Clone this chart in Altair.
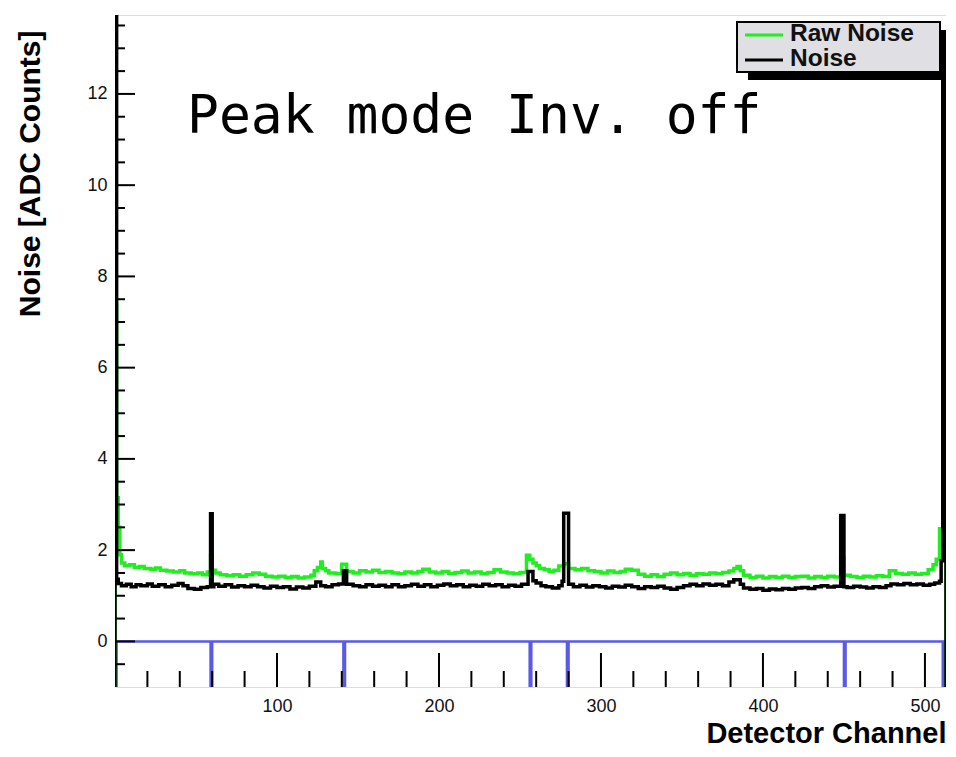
import altair as alt
import pandas as pd

# ---------------- data ----------------
series_names = ["Raw Noise", "Noise"]
series_colors = ["#1fee1f", "#000000"]
flag_color = "#5a5ae6"

x_end = 513

raw_ch = [0, 1, 2, 3, 4, 6, 9, 12, 15, 18, 22, 25, 28, 32, 36, 40, 43, 47, 51, 54, 57, 59, 60, 62,
          65, 69, 73, 77, 81, 85, 89, 93, 97, 101, 105, 109, 113, 117, 121, 123, 125, 127, 128, 130,
          132, 136, 140, 143, 147, 151, 155, 159, 163, 167, 171, 175, 179, 183, 187, 190, 194, 198,
          202, 206, 210, 214, 218, 222, 226, 230, 234, 238, 242, 246, 250, 254, 256, 258, 260, 262,
          265, 268, 271, 274, 277, 280, 284, 288, 292, 296, 300, 304, 308, 312, 315, 319, 323, 327,
          331, 335, 339, 343, 347, 351, 355, 359, 363, 367, 371, 375, 379, 382, 384, 386, 388, 392,
          396, 400, 404, 408, 412, 416, 420, 424, 428, 432, 436, 440, 444, 448, 450, 454, 458, 462,
          466, 470, 474, 478, 482, 486, 490, 494, 498, 502, 505, 507, 509, 511]
raw_val = [7.4, 3.15, 2.5, 1.9, 1.72, 1.66, 1.68, 1.62, 1.64, 1.6, 1.58, 1.61, 1.56, 1.54, 1.52, 1.55,
           1.5, 1.48, 1.5, 1.46, 1.52, 1.88, 1.56, 1.5,
           1.46, 1.44, 1.46, 1.43, 1.46, 1.5, 1.47, 1.43, 1.41, 1.43, 1.4, 1.42, 1.39, 1.41, 1.45, 1.55,
           1.62, 1.74, 1.6, 1.55,
           1.5, 1.49, 1.69, 1.53, 1.5, 1.55, 1.52, 1.56, 1.51, 1.53, 1.5, 1.48, 1.52, 1.5, 1.53, 1.58,
           1.52, 1.5,
           1.53, 1.49, 1.51, 1.54, 1.5, 1.52, 1.48, 1.51, 1.57, 1.52, 1.5, 1.48, 1.51, 1.89, 1.8, 1.72,
           1.66, 1.6,
           1.57, 1.53, 1.56, 1.65, 1.7, 1.6, 1.57, 1.6, 1.55, 1.53, 1.5, 1.54, 1.51, 1.53, 1.58, 1.56,
           1.47, 1.43,
           1.46, 1.42, 1.47, 1.5, 1.46, 1.49, 1.45, 1.48, 1.47, 1.5, 1.48, 1.51, 1.54, 1.6, 1.64, 1.55,
           1.45, 1.4,
           1.43, 1.39, 1.42, 1.4, 1.43, 1.4, 1.42, 1.43, 1.39, 1.42, 1.4, 1.43, 1.41, 1.83, 1.45, 1.42,
           1.4, 1.43,
           1.41, 1.44, 1.42, 1.55, 1.49, 1.47, 1.5, 1.47, 1.49, 1.57, 1.68, 1.8, 2.47, 12.8]

noise_ch = [0, 1, 2, 4, 7, 10, 13, 16, 20, 23, 27, 31, 35, 39, 42, 45, 49, 53, 57, 59, 60, 61, 64,
            68, 72, 76, 80, 84, 88, 92, 96, 100, 104, 108, 112, 116, 120, 124, 127, 130, 134, 138,
            141, 143, 147, 151, 155, 159, 163, 167, 171, 175, 179, 183, 187, 191, 195, 199, 203, 207,
            211, 215, 219, 223, 227, 231, 235, 239, 243, 247, 251, 255, 258, 260, 263, 266, 270, 274,
            276, 277, 280, 283, 287, 291, 295, 299, 303, 307, 311, 315, 319, 323, 327, 331, 335, 339,
            343, 347, 351, 355, 359, 363, 367, 371, 375, 379, 382, 386, 388, 392, 396, 400, 404, 408,
            412, 416, 420, 424, 428, 432, 436, 440, 444, 448, 450, 452, 456, 460, 464, 468, 472, 476,
            479, 483, 487, 491, 495, 499, 503, 506, 509, 510, 511]
noise_val = [20.0, 1.36, 1.27, 1.22, 1.25, 1.2, 1.24, 1.22, 1.26, 1.21, 1.24, 1.2, 1.23, 1.27, 1.22,
             1.16, 1.14, 1.18, 1.2, 2.8, 1.2, 1.25, 1.21,
             1.24, 1.19, 1.22, 1.2, 1.23, 1.2, 1.17, 1.21, 1.18, 1.2, 1.15, 1.19, 1.17, 1.21, 1.3, 1.22,
             1.2, 1.24, 1.26,
             1.55, 1.25, 1.22, 1.2, 1.24, 1.21, 1.23, 1.2, 1.24, 1.2, 1.22, 1.25, 1.21, 1.24, 1.2, 1.23,
             1.26, 1.22,
             1.24, 1.2, 1.23, 1.21, 1.25, 1.22, 1.24, 1.2, 1.23, 1.21, 1.25, 1.53, 1.33, 1.28, 1.22, 1.2,
             1.17, 1.22,
             1.32, 2.81, 1.25, 1.2, 1.23, 1.19, 1.22, 1.2, 1.17, 1.21, 1.19, 1.23, 1.2, 1.16, 1.2, 1.18,
             1.21, 1.17,
             1.14, 1.18, 1.22, 1.25, 1.22, 1.26, 1.23, 1.25, 1.22, 1.3, 1.35, 1.25, 1.17, 1.14, 1.16,
             1.12, 1.15, 1.13,
             1.16, 1.14, 1.17, 1.18, 1.16, 1.2, 1.22, 1.19, 1.21, 2.76, 1.2, 1.18, 1.21, 1.19, 1.17,
             1.2, 1.18, 1.22,
             1.26, 1.24, 1.27, 1.24, 1.26, 1.23, 1.25, 1.28, 1.32, 1.77, 13.3]

flag_ch = [0, 59, 141, 256, 279, 450, 511]

y_major = [0, 2, 4, 6, 8, 10, 12]
y_minor = [-0.5, 0.5, 1, 1.5, 2.5, 3, 3.5, 4.5, 5, 5.5, 6.5, 7, 7.5, 8.5, 9, 9.5, 10.5, 11, 11.5,
           12.5, 13, 13.5]
x_major = [100, 200, 300, 400, 500]
x_minor = [20, 40, 60, 80, 120, 140, 160, 180, 220, 240, 260, 280, 320, 340, 360, 380, 420, 440,
           460, 480]

annotation = ["Peak mode Inv. off"]
x_title = "Detector Channel"
y_title = "Noise [ADC Counts]"

# ---------------- layout ----------------
W, H = 831, 672
floor = -3

xs = alt.Scale(domain=[0, x_end], nice=False, zero=False)
ys = alt.Scale(domain=[-1, 13.73], nice=False, zero=False)

label_font = "Liberation Sans"

x_axis = alt.Axis(values=x_major, ticks=False, domain=False, grid=False,
                  labelFont=label_font, labelFontSize=18, labelColor="#111111", labelPadding=10,
                  title=x_title, titleFont=label_font, titleFontSize=29, titleFontWeight="bold",
                  titleColor="#000000", titleAnchor="end", titleAlign="right", titleX=W, titleY=55,
                  titleBaseline="alphabetic")
y_axis = alt.Axis(values=y_major, ticks=False, domain=False, grid=False,
                  labelFont=label_font, labelFontSize=18, labelColor="#111111", labelPadding=8,
                  title=y_title, titleFont=label_font, titleFontSize=30, titleFontWeight="bold",
                  titleColor="#000000", titleAngle=270, titleAlign="right", titleBaseline="middle",
                  titleX=-85, titleY=15)


def step_frame(chs, vals):
    pts = [(chs[0], floor)] + list(zip(chs, vals)) + [(x_end, vals[-1]), (x_end, floor)]
    return pd.DataFrame({"ch": [p[0] for p in pts], "v": [p[1] for p in pts],
                         "idx": list(range(len(pts)))})


def flag_frame(flags):
    pts = [(0, 0)]
    for c in flags:
        pts.append((c, floor))
        pts.append((c + 1, 0))
    pts.append((x_end, 0))
    pts.append((x_end, floor))
    return pd.DataFrame({"ch": [p[0] for p in pts], "v": [p[1] for p in pts],
                         "idx": list(range(len(pts)))})


def line_layer(df, color, width):
    return alt.Chart(df).mark_line(interpolate="step-after", clip=True, color=color,
                                   strokeWidth=width).encode(
        x=alt.X("ch:Q", scale=xs, axis=x_axis),
        y=alt.Y("v:Q", scale=ys, axis=y_axis),
        order=alt.Order("idx:Q"),
    )


blue = line_layer(flag_frame(flag_ch), flag_color, 2.5)
green = line_layer(step_frame(raw_ch, raw_val), series_colors[0], 3.5)
black = line_layer(step_frame(noise_ch, noise_val), series_colors[1], 3.5)

# inward ticks
yt_major = alt.Chart(pd.DataFrame({"v": y_major})).mark_rule(color="black", strokeWidth=2).encode(
    y=alt.Y("v:Q", scale=ys, axis=y_axis), x=alt.value(0), x2=alt.value(20))
yt_minor = alt.Chart(pd.DataFrame({"v": y_minor})).mark_rule(color="black", strokeWidth=2).encode(
    y=alt.Y("v:Q", scale=ys, axis=y_axis), x=alt.value(0), x2=alt.value(10))
xt_major = alt.Chart(pd.DataFrame({"ch": x_major})).mark_rule(color="black", strokeWidth=2).encode(
    x=alt.X("ch:Q", scale=xs, axis=x_axis), y=alt.value(H), y2=alt.value(H - 34))
xt_minor = alt.Chart(pd.DataFrame({"ch": x_minor})).mark_rule(color="black", strokeWidth=2).encode(
    x=alt.X("ch:Q", scale=xs, axis=x_axis), y=alt.value(H), y2=alt.value(H - 16))

# legend (ROOT style box with shadow)
one = pd.DataFrame({"k": [0]})
leg_shadow = alt.Chart(one).mark_rect(color="black").encode(
    x=alt.value(633), x2=alt.value(833), y=alt.value(15), y2=alt.value(65))
leg_box = alt.Chart(one).mark_rect(fill="#e0dfe3", stroke="black", strokeWidth=2).encode(
    x=alt.value(622), x2=alt.value(825), y=alt.value(7), y2=alt.value(57))
legend_layers = []
for i, (name, col) in enumerate(zip(series_names, series_colors)):
    yy = 20 + 25 * i
    legend_layers.append(alt.Chart(one).mark_rule(color=col, strokeWidth=3).encode(
        x=alt.value(630), x2=alt.value(668), y=alt.value(yy)))
    legend_layers.append(alt.Chart(pd.DataFrame({"t": [name]})).mark_text(
        font=label_font, fontSize=24.5, fontWeight="bold", color="#111111", align="left",
        baseline="middle").encode(text="t:N", x=alt.value(675), y=alt.value(yy - 1)))

note = alt.Chart(pd.DataFrame({"t": annotation})).mark_text(
    font="DejaVu Sans Mono", fontSize=53, color="black", align="left", baseline="alphabetic").encode(
    text="t:N", x=alt.value(72), y=alt.value(118))

chart = alt.layer(blue, green, black, yt_major, yt_minor, xt_major, xt_minor,
                  leg_shadow, leg_box, *legend_layers, note).properties(
    width=W, height=H,
    autosize=alt.AutoSizeParams(type="none"),
    padding={"left": 107, "top": 7, "right": 0, "bottom": 62},
).configure_view(stroke="black", strokeWidth=2).configure(background="white")

chart.save("out.html", embed_options={"renderer": "svg", "actions": False})
